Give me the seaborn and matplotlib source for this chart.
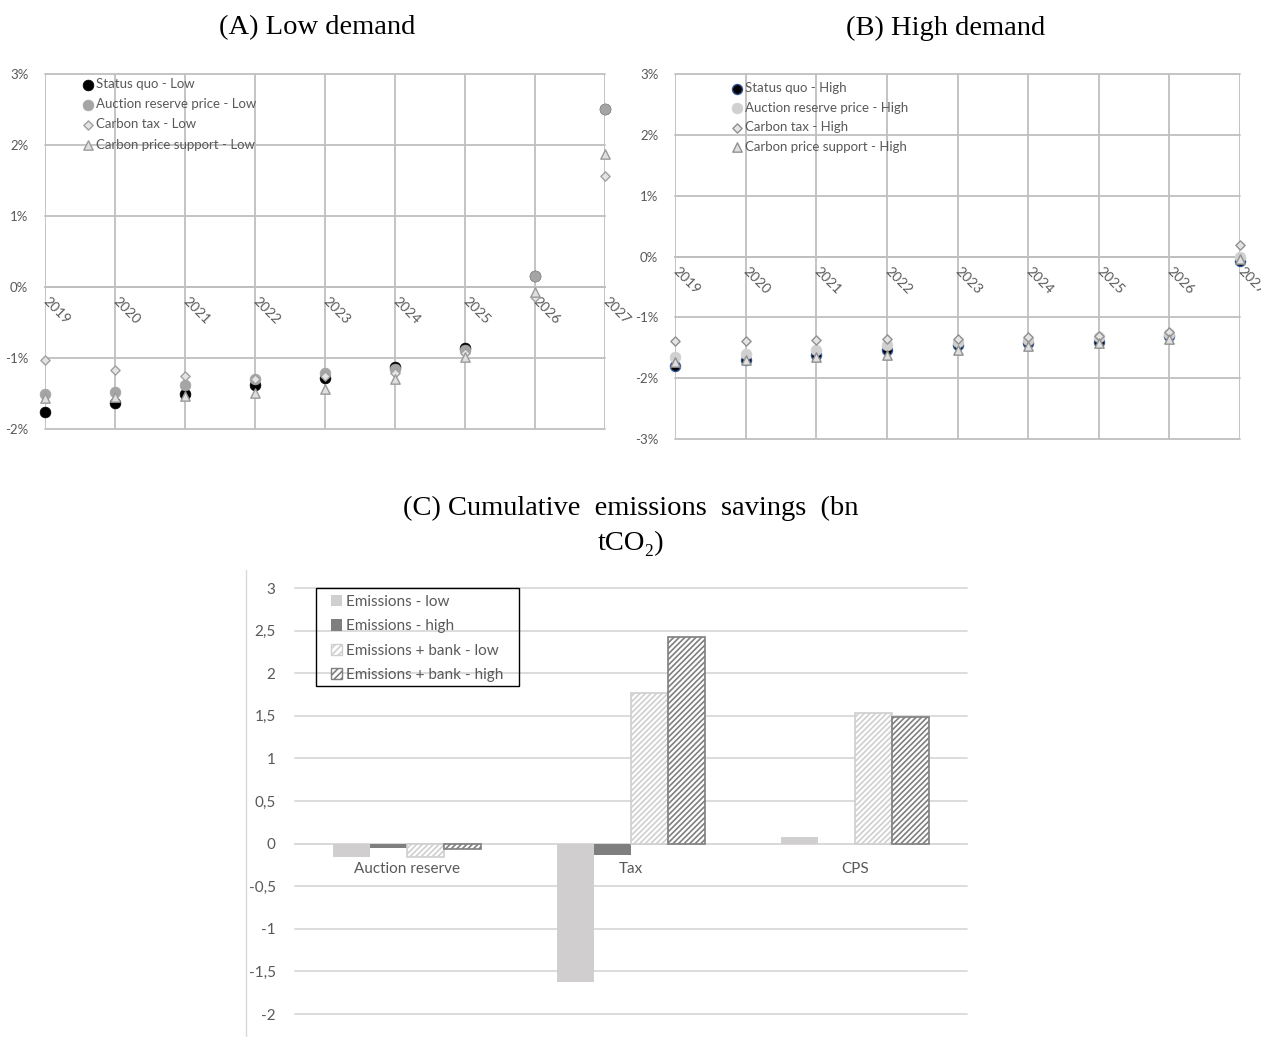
import numpy as np
import pandas as pd
import matplotlib
matplotlib.use("Agg")
import matplotlib.pyplot as plt
import seaborn as sns
from matplotlib.patches import Patch, Rectangle
from matplotlib.lines import Line2D
from matplotlib.ticker import FuncFormatter

# ---------------- data ----------------
years = [2019, 2020, 2021, 2022, 2023, 2024, 2025, 2026, 2027]

# Panel A: low demand (%)
sq_low = [-1.76, -1.63, -1.50, -1.38, -1.28, -1.13, -0.86, 0.15, 2.51]
arp_low = [-1.50, -1.48, -1.38, -1.29, -1.21, -1.16, -0.89, 0.15, 2.51]
tax_low = [-1.03, -1.17, -1.25, -1.29, -1.26, -1.21, -0.93, -0.14, 1.57]
cps_low = [-1.56, -1.55, -1.54, -1.49, -1.43, -1.30, -0.99, -0.07, 1.87]

# Panel B: high demand (%)
sq_high = [-1.80, -1.70, -1.62, -1.54, -1.46, -1.42, -1.40, -1.30, -0.07]
arp_high = [-1.66, -1.60, -1.53, -1.46, -1.40, -1.37, -1.32, -1.27, -0.01]
tax_high = [-1.39, -1.39, -1.37, -1.36, -1.35, -1.32, -1.30, -1.24, 0.19]
cps_high = [-1.73, -1.70, -1.65, -1.62, -1.54, -1.47, -1.43, -1.35, -0.04]

# Panel C: cumulative emissions savings (bn tCO2)
policies = ["Auction reserve", "Tax", "CPS"]
em_low = [-0.16, -1.62, 0.08]
em_high = [-0.05, -0.13, 0.0]
bank_low = [-0.16, 1.77, 1.53]
bank_high = [-0.06, 2.43, 1.49]
bar_series = ["Emissions - low", "Emissions - high",
              "Emissions + bank - low", "Emissions + bank - high"]

# ---------------- style ----------------
sns.set_theme(style="white")
plt.rcParams["font.family"] = ["Lato", "DejaVu Sans"]
plt.rcParams["axes.unicode_minus"] = False
plt.rcParams["hatch.linewidth"] = 1.2

W, H = 1261, 1037
fig = plt.figure(figsize=(W / 100, H / 100), dpi=100)

TXT = "#595959"
GRID = "#BFBFBF"
title_font = dict(family=["Liberation Serif", "DejaVu Serif"], fontsize=20.5, color="black")


def fx(px):
    return px / W


def fy(py):
    return 1 - py / H


def scatter_panel(ax, data, styles, ylim, yticks):
    for (label, vals), st in zip(data, styles):
        sns.scatterplot(x=years, y=vals, ax=ax, marker=st["marker"], s=st["s"],
                        color=st["fc"], edgecolor=st["ec"], linewidth=st["lw"],
                        label=label, zorder=3, clip_on=False)
    ax.set_xlim(years[0], years[-1])
    ax.set_ylim(*ylim)
    ax.set_xticks(years)
    ax.set_yticks(yticks)
    ax.yaxis.set_major_formatter(FuncFormatter(lambda v, p: f"{v:.0f}%"))
    ax.grid(True, color=GRID, linewidth=1.3)
    for ln in ax.get_xgridlines() + ax.get_ygridlines():
        ln.set_clip_on(False)
    ax.set_axisbelow(True)
    for s in ["top", "right", "left"]:
        ax.spines[s].set_visible(False)
    ax.spines["bottom"].set_position(("data", 0))
    ax.spines["bottom"].set_color(GRID)
    ax.spines["bottom"].set_linewidth(1.3)
    ax.tick_params(axis="both", length=0, labelsize=9.5, labelcolor=TXT)
    ax.tick_params(axis="y", pad=12)
    ax.tick_params(axis="x", pad=9, labelsize=10)
    for t in ax.get_xticklabels():
        t.set_rotation(-45)
        t.set_rotation_mode("anchor")
        t.set_ha("left")
        t.set_va("center")
        t.set_clip_on(False)
    ax.set_xlabel("")
    ax.set_ylabel("")
    ax.set_facecolor("white")


# ---------------- Panel A ----------------
axA = fig.add_axes([fx(45), fy(429), fx(560), (429 - 74) / H])
stylesA = [
    dict(marker="o", s=60, fc="black", ec="black", lw=0.5),
    dict(marker="o", s=60, fc="#A5A5A5", ec="#A5A5A5", lw=0.5),
    dict(marker="D", s=22, fc="#E4E4E4", ec="#A0A0A0", lw=1.0),
    dict(marker="^", s=45, fc="#E0E0E0", ec="#9A9A9A", lw=1.0),
]
dataA = [("Status quo - Low", sq_low), ("Auction reserve price - Low", arp_low),
         ("Carbon tax - Low", tax_low), ("Carbon price support - Low", cps_low)]
scatter_panel(axA, dataA, stylesA, (-2, 3), [-2, -1, 0, 1, 2, 3])
legA = axA.legend(loc="upper left", bbox_to_anchor=(fx(81), fy(78)),
                  bbox_transform=fig.transFigure, frameon=False, fontsize=9.5,
                  handletextpad=0.1, labelspacing=0.62, handlelength=1.0,
                  borderaxespad=0, borderpad=0)
for t in legA.get_texts():
    t.set_color(TXT)
fig.text(fx(317), fy(28), "(A) Low demand", ha="center", va="center", **title_font)

# ---------------- Panel B ----------------
axB = fig.add_axes([fx(675), fy(439), fx(565), (439 - 74) / H])
stylesB = [
    dict(marker="o", s=52, fc="black", ec="#2F5597", lw=1.0),
    dict(marker="o", s=60, fc="#D0D0D0", ec="#D0D0D0", lw=0.5),
    dict(marker="D", s=22, fc="#E4E4E4", ec="#909090", lw=1.0),
    dict(marker="^", s=45, fc="#E0E0E0", ec="#909090", lw=1.0),
]
dataB = [("Status quo - High", sq_high), ("Auction reserve price - High", arp_high),
         ("Carbon tax - High", tax_high), ("Carbon price support - High", cps_high)]
scatter_panel(axB, dataB, stylesB, (-3, 3), [-3, -2, -1, 0, 1, 2, 3])
legB = axB.legend(loc="upper left", bbox_to_anchor=(fx(730), fy(82)),
                  bbox_transform=fig.transFigure, frameon=False, fontsize=9.5,
                  handletextpad=0.1, labelspacing=0.58, handlelength=1.0,
                  borderaxespad=0, borderpad=0)
for t in legB.get_texts():
    t.set_color(TXT)
fig.text(fx(946), fy(28), "(B) High demand", ha="center", va="center", **title_font)

# ---------------- Panel C ----------------
axC = fig.add_axes([fx(295), fy(1014), fx(672), (1014 - 588) / H])
df = pd.DataFrame({
    "policy": policies * 4,
    "series": sum([[s] * len(policies) for s in bar_series], []),
    "value": em_low + em_high + bank_low + bank_high,
})
facec = ["#D0CECE", "#7F7F7F", "white", "white"]
edgec = ["#D0CECE", "#7F7F7F", "#D0CECE", "#7F7F7F"]
hatches = [None, None, "//////", "//////"]
sns.barplot(data=df, x="policy", y="value", hue="series", hue_order=bar_series,
            palette=dict(zip(bar_series, facec)), width=0.66, saturation=1,
            ax=axC, legend=False, zorder=3)
for cont, fc, ec, h in zip(axC.containers, facec, edgec, hatches):
    for bar in cont:
        bar.set_facecolor(fc)
        bar.set_edgecolor(ec)
        bar.set_linewidth(1.2 if h else 0)
        if h:
            bar.set_hatch(h)
axC.set_xlim(-0.5, 2.5)
axC.set_ylim(-2, 3)
yt = [-2, -1.5, -1, -0.5, 0, 0.5, 1, 1.5, 2, 2.5, 3]
axC.set_yticks(yt)
axC.yaxis.set_major_formatter(FuncFormatter(lambda v, p: (f"{v:g}").replace(".", ",")))
axC.grid(True, axis="y", color="#D9D9D9", linewidth=1.3)
axC.grid(False, axis="x")
for ln in axC.get_ygridlines():
    ln.set_clip_on(False)
axC.set_axisbelow(True)
for s in ["top", "right", "left"]:
    axC.spines[s].set_visible(False)
axC.spines["bottom"].set_position(("data", 0))
axC.spines["bottom"].set_color("#D9D9D9")
axC.spines["bottom"].set_linewidth(1.3)
axC.tick_params(axis="both", length=0, labelsize=11, labelcolor=TXT)
axC.tick_params(axis="y", pad=14)
axC.tick_params(axis="x", pad=13)
axC.set_xlabel("")
axC.set_ylabel("")

handles = [Patch(facecolor=fc, edgecolor=ec, hatch=h, linewidth=1.0 if h else 0)
           for fc, ec, h in zip(facec, edgec, ["", "", "/////", "/////"])]
legC = axC.legend(handles, bar_series, loc="upper left",
                  bbox_to_anchor=(fx(331), fy(595)), bbox_transform=fig.transFigure,
                  frameon=False, fontsize=11, handlelength=0.75, handleheight=0.75,
                  handletextpad=0.25, labelspacing=0.68, borderaxespad=0,
                  borderpad=0)
for t in legC.get_texts():
    t.set_color(TXT)
fig.add_artist(Rectangle((fx(316), fy(686)), fx(519 - 316), (686 - 588) / H,
                         transform=fig.transFigure, facecolor="none",
                         edgecolor="black", linewidth=1.0, zorder=5))

fig.add_artist(Line2D([fx(246), fx(246)], [fy(570), fy(1037)], color="#D9D9D9",
                      linewidth=1.0, transform=fig.transFigure))

fig.text(fx(631), fy(508), "(C) Cumulative  emissions  savings  (bn",
         ha="center", va="center", **title_font)
fig.text(fx(631), fy(543), "tCO\u2082)", ha="center", va="center", **title_font)

fig.savefig("out.png", dpi=100, facecolor="white")
